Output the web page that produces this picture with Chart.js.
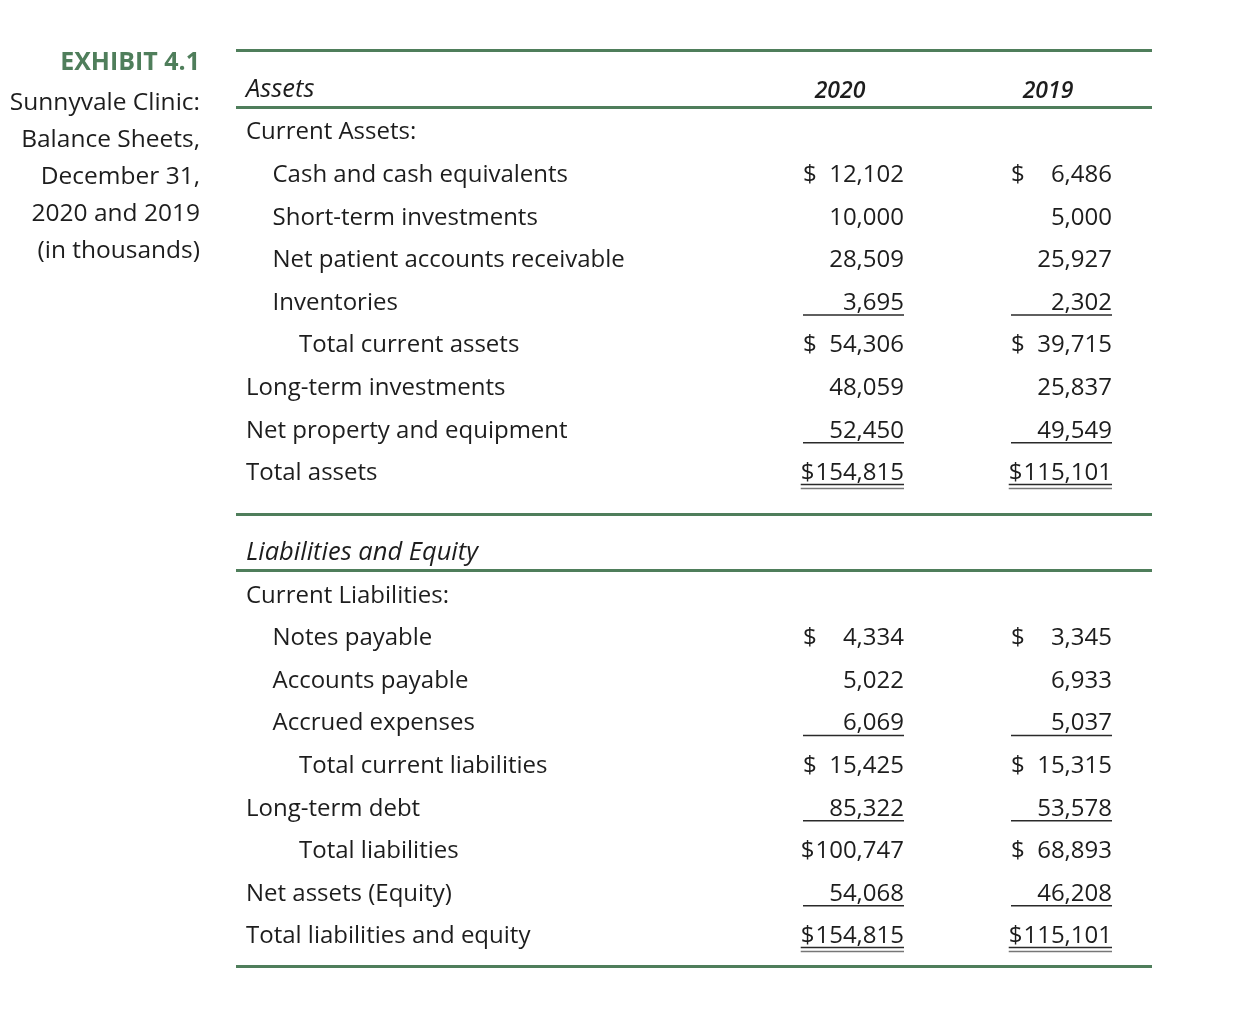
<!DOCTYPE html>
<html>
<head>
<meta charset="utf-8">
<script src="https://cdn.jsdelivr.net/npm/chart.js@4"></script>
<style>
    body { margin: 0; background: #fff; }
    #wrap { width: 1250px; height: 1010px; }
</style>
</head>
<body>
<div id="wrap"><canvas id="chart1"></canvas></div>
<script>
// balance sheet data (in thousands)
const years = ['2020', '2019'];

const rowLabels = [
    'Assets',
    'Current Assets:',
    'Cash and cash equivalents',
    'Short-term investments',
    'Net patient accounts receivable',
    'Inventories',
    'Total current assets',
    'Long-term investments',
    'Net property and equipment',
    'Total assets',
    'Liabilities and Equity',
    'Current Liabilities:',
    'Notes payable',
    'Accounts payable',
    'Accrued expenses',
    'Total current liabilities',
    'Long-term debt',
    'Total liabilities',
    'Net assets (Equity)',
    'Total liabilities and equity'
];

const values2020 = [null, null, 12102, 10000, 28509, 3695, 54306, 48059, 52450, 154815,
    null, null, 4334, 5022, 6069, 15425, 85322, 100747, 54068, 154815];
const values2019 = [null, null, 6486, 5000, 25927, 2302, 39715, 25837, 49549, 115101,
    null, null, 3345, 6933, 5037, 15315, 53578, 68893, 46208, 115101];

// structure of the statement
const rowLevel = [0, 0, 1, 1, 1, 1, 2, 0, 0, 0, 0, 0, 1, 1, 1, 2, 0, 2, 0, 0];
const headRows = [0, 10];
const dollarRows = [2, 6, 9, 12, 15, 17, 19];
const singleRule = [5, 8, 14, 16, 18];
const doubleRule = [9, 19];

const titleLines = ['Sunnyvale Clinic:', 'Balance Sheets,', 'December 31,', '2020 and 2019', '(in thousands)'];

const green = '#4f7e5b';
const ink = '#1d1d1d';
const sansFont = '"Open Sans", "Noto Sans", sans-serif';

// second section sits a bit lower
const rowPos = (i) => i + (i >= 10 ? 0.87 : 0);

const makePoints = (vals, col) => vals.map((v, i) => ({ x: col, y: rowPos(i), v: v }));

const data_sheet = {
    datasets: [
        { label: 'labels', data: rowLabels.map((t, i) => ({ x: -2.2, y: rowPos(i) })), pointRadius: 0 },
        { label: years[0], data: makePoints(values2020, 1), pointRadius: 0 },
        { label: years[1], data: makePoints(values2019, 2), pointRadius: 0 }
    ]
};

const tablePlugin = {
    id: 'tablePlugin',
    afterDatasetsDraw(chart) {
        const ctx = chart.ctx;
        const area = chart.chartArea;
        const yS = chart.scales.y;
        const xS = chart.scales.x;
        const dy = 2; // optical shift for text
        ctx.save();

        // green rules
        const rules = [-0.89, 0.45, 10.0, rowPos(10) + 0.45, rowPos(19) + 0.74];
        ctx.strokeStyle = green;
        ctx.lineWidth = 3;
        rules.forEach((v) => {
            const y = Math.round(yS.getPixelForValue(v)) + 0.5;
            ctx.beginPath();
            ctx.moveTo(area.left, y);
            ctx.lineTo(area.right, y);
            ctx.stroke();
        });

        // left title block
        ctx.textAlign = 'right';
        ctx.textBaseline = 'middle';
        ctx.fillStyle = green;
        ctx.font = 'bold 25px ' + sansFont;
        ctx.fillText('EXHIBIT 4.1', area.left - 36, area.top + 13);
        ctx.fillStyle = ink;
        ctx.font = '500 24.5px ' + sansFont;
        titleLines.forEach((t, i) => {
            ctx.fillText(t, area.left - 36, area.top + 53 + i * 37);
        });

        // row labels
        const labelMeta = chart.getDatasetMeta(0);
        ctx.textAlign = 'left';
        labelMeta.data.forEach((pt, i) => {
            const italic = headRows.includes(i);
            ctx.font = italic ? 'italic 500 25.5px ' + sansFont : '500 24px ' + sansFont;
            ctx.fillText(rowLabels[i], area.left + 10 + rowLevel[i] * 26.5, pt.y + dy);
        });

        // year headings
        ctx.textAlign = 'center';
        ctx.font = 'italic 600 23px ' + sansFont;
        [1, 2].forEach((d) => {
            const x = xS.getPixelForValue(d) - 64;
            ctx.fillText(years[d - 1], x, yS.getPixelForValue(0) + dy + 1);
        });

        // values
        [1, 2].forEach((d) => {
            const meta = chart.getDatasetMeta(d);
            const ds = chart.data.datasets[d].data;
            meta.data.forEach((pt, i) => {
                const v = ds[i].v;
                if (v === null) return;
                const right = pt.x;
                const txt = v.toLocaleString('en-US');
                ctx.font = '500 24px ' + sansFont;
                ctx.fillStyle = ink;
                const numW = ctx.measureText(txt).width;
                const dolW = ctx.measureText('$').width;
                const left = Math.min(right - 101, right - numW - dolW - 1);
                ctx.textAlign = 'right';
                ctx.fillText(txt, right, pt.y + dy);
                if (dollarRows.includes(i)) {
                    ctx.textAlign = 'left';
                    ctx.fillText('$', left, pt.y + dy);
                }
                ctx.strokeStyle = '#2a2a2a';
                ctx.lineWidth = 1.5;
                if (singleRule.includes(i)) {
                    const y = pt.y + 14;
                    ctx.beginPath();
                    ctx.moveTo(left, y);
                    ctx.lineTo(right, y);
                    ctx.stroke();
                }
                if (doubleRule.includes(i)) {
                    [13, 17].forEach((off, k) => {
                        ctx.strokeStyle = k === 0 ? '#2a2a2a' : '#777';
                        ctx.beginPath();
                        ctx.moveTo(left, pt.y + off);
                        ctx.lineTo(right, pt.y + off);
                        ctx.stroke();
                    });
                }
            });
        });

        ctx.restore();
    }
};

const config_sheet = {
    type: 'scatter',
    data: data_sheet,
    plugins: [tablePlugin],
    options: {
        responsive: true,
        maintainAspectRatio: false,
        animation: false,
        layout: {
            padding: { left: 236, right: 98, top: 50, bottom: 44 }
        },
        plugins: {
            legend: { display: false },
            tooltip: { enabled: false }
        },
        scales: {
            x: { type: 'linear', display: false, min: -2.2115, max: 2.1923 },
            y: { type: 'linear', display: false, reverse: true, min: -0.892, max: 20.61 }
        }
    }
};

const ctx_sheet = document.getElementById('chart1').getContext('2d');
const sheet = new Chart(ctx_sheet, config_sheet);
</script>
</body>
</html>
